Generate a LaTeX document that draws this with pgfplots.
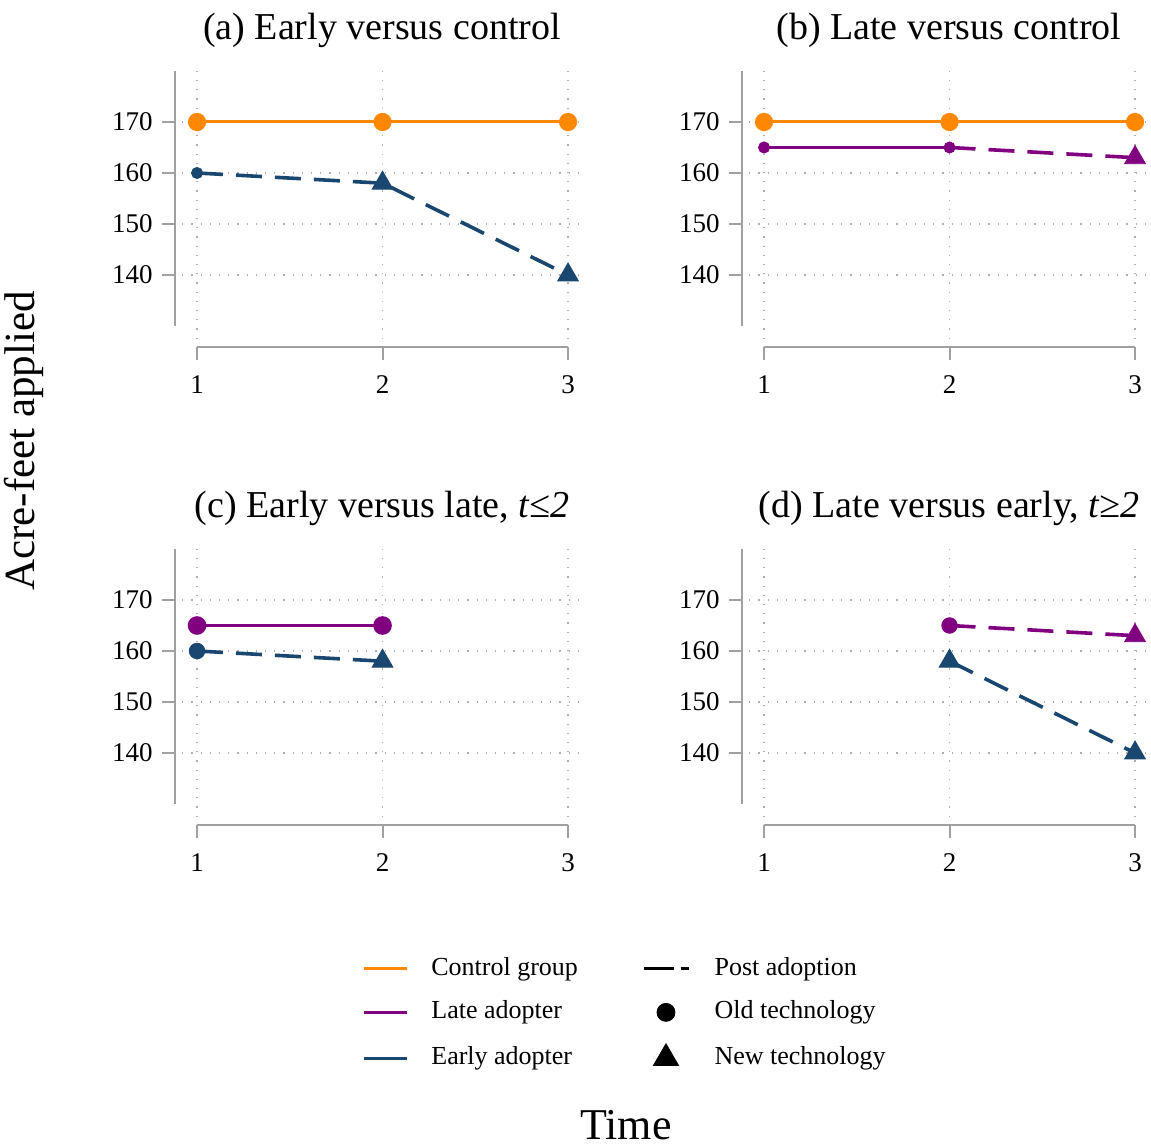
\documentclass[border=0pt]{standalone}
\usepackage{fontspec}
\setmainfont{Liberation Serif}
\usepackage{pgfplots}
\pgfplotsset{compat=1.18}

\definecolor{cOrange}{RGB}{255,136,0}
\definecolor{cPurple}{RGB}{128,0,128}
\definecolor{cNavy}{RGB}{26,71,111}
\definecolor{axisgray}{RGB}{160,160,160}
\definecolor{gridgray}{RGB}{175,175,175}

\pgfplotsset{
  panel/.style={
    x=92.75pt, y=2.55pt,
    xmin=0.92, xmax=3.1, ymin=127.5, ymax=181.5,
    anchor=south west,
    axis line style={draw=none},
    xtick={1,2,3}, ytick={140,150,160,170},
    major tick style={draw=none},
    grid=major,
    major grid style={gridgray, line width=0.6pt, dash pattern=on 0.6pt off 4pt},
    clip=false,
    /pgf/number format/assume math mode=true,
    tick label style={font=\fontsize{13.5}{15}\selectfont},
    yticklabel style={anchor=east, inner sep=0pt, xshift=-14.6pt},
    xticklabel style={anchor=north, inner sep=0pt, yshift=-18.3pt},
    title style={at={(axis description cs:0.494,1)}, anchor=base, inner sep=0pt, yshift=5.7pt, font=\fontsize{19}{21}\selectfont},
    execute at end axis={
      \draw[axisgray, line width=1pt] (axis cs:0.881,130) -- (axis cs:0.881,180);
      \draw[axisgray, line width=1pt] (axis cs:1,125.8) -- (axis cs:3,125.8);
      \pgfplotsinvokeforeach{140,150,160,170}{\draw[axisgray, line width=1pt] (axis cs:0.881,##1) -- ++(-6.5pt,0pt);}
      \pgfplotsinvokeforeach{1,2,3}{\draw[axisgray, line width=1pt] (axis cs:##1,125.8) -- ++(0pt,-6.5pt);}
    },
  },
  solidline/.style={line width=1.5pt},
  dashline/.style={line width=1.8pt, dash pattern=on 13pt off 6.5pt},
  bigdot/.style={only marks, mark=*, mark size=3.9pt},
  smalldot/.style={only marks, mark=*, mark size=2.8pt},
  tri/.style={only marks, mark=triangle*, mark size=6pt},
}

\begin{document}
\begin{tikzpicture}
\useasboundingbox (0,0) rectangle (575.5pt,573.5pt);

% (a)
\begin{axis}[panel, at={(91.1pt,404.125pt)}, title={(a) Early versus control}]
\addplot[cOrange, solidline, mark=*, mark size=3.8pt] coordinates {(1,170) (2,170) (3,170)};
\addplot[cNavy, dashline] coordinates {(1,160) (2,158) (3,140)};
\addplot[cNavy, smalldot] coordinates {(1,160)};
\addplot[cNavy, tri] coordinates {(2,158) (3,140)};
\end{axis}

% (b)
\begin{axis}[panel, at={(374.6pt,404.125pt)}, title={(b) Late versus control}]
\addplot[cOrange, solidline, mark=*, mark size=3.8pt] coordinates {(1,170) (2,170) (3,170)};
\addplot[cPurple, solidline] coordinates {(1,165) (2,165)};
\addplot[cPurple, dashline] coordinates {(2,165) (3,163)};
\addplot[cPurple, smalldot] coordinates {(1,165) (2,165)};
\addplot[cPurple, tri] coordinates {(3,163)};
\end{axis}

% (c)
\begin{axis}[panel, at={(91.1pt,165.125pt)}, title={(c) Early versus late, {\itshape t≤2}},
  legend columns=2, legend cell align=left,
  legend style={at={(axis description cs:0.4446,-0.5055)}, anchor=north west,
    draw=none, fill=none, inner sep=0pt, row sep=9.25pt,
    font=\fontsize{13}{15}\selectfont,
    nodes={inner sep=0pt, text height=9.5pt, text depth=3pt},
    /tikz/column 1/.style={column sep=11.5pt},
    /tikz/column 2/.style={column sep=15.5pt},
    /tikz/column 3/.style={column sep=12pt}},
]
\addplot[cPurple, solidline, mark=*, mark size=3.9pt, forget plot] coordinates {(1,165) (2,165)};
\addplot[cNavy, dashline, forget plot] coordinates {(1,160) (2,158)};
\addplot[cNavy, bigdot, forget plot] coordinates {(1,160)};
\addplot[cNavy, tri, forget plot] coordinates {(2,158)};
\addlegendimage{legend image code/.code={\draw[cOrange, line width=1.5pt] (0pt,0pt) -- (21.5pt,0pt);}}
\addlegendentry{\makebox[90pt][l]{Control group}}
\addlegendimage{legend image code/.code={\draw[black, line width=1.6pt, dash pattern=on 15pt off 3.5pt] (0pt,0pt) -- (22.5pt,0pt);}}
\addlegendentry{Post adoption}
\addlegendimage{legend image code/.code={\draw[cPurple, line width=1.5pt] (0pt,0pt) -- (21.5pt,0pt);}}
\addlegendentry{\makebox[90pt][l]{Late adopter}}
\addlegendimage{legend image code/.code={\path[draw=none] (0pt,0pt) -- (22.5pt,0pt); \fill[black] (11pt,0pt) circle (4.5pt);}}
\addlegendentry{Old technology}
\addlegendimage{legend image code/.code={\draw[cNavy, line width=1.5pt] (0pt,0pt) -- (21.5pt,0pt);}}
\addlegendentry{\makebox[90pt][l]{Early adopter}}
\addlegendimage{legend image code/.code={\path[draw=none] (0pt,0pt) -- (22.5pt,0pt); \fill[black] (11pt,7.3pt) -- (17.3pt,-3.6pt) -- (4.7pt,-3.6pt) -- cycle;}}
\addlegendentry{New technology}
\end{axis}

% (d)
\begin{axis}[panel, at={(374.6pt,165.125pt)}, title={(d) Late versus early, {\itshape t≥2}}]
\addplot[cPurple, dashline] coordinates {(2,165) (3,163)};
\addplot[cNavy, dashline] coordinates {(2,158) (3,140)};
\addplot[cPurple, bigdot] coordinates {(2,165)};
\addplot[cPurple, tri] coordinates {(3,163)};
\addplot[cNavy, tri] coordinates {(2,158) (3,140)};
\end{axis}

\node[rotate=90, anchor=base, inner sep=0pt, font=\fontsize{21.5}{24}\selectfont] at (17.5pt,353pt) {Acre-feet applied};
\node[anchor=base, inner sep=0pt, font=\fontsize{22}{24}\selectfont] at (313pt,4pt) {Time};
\end{tikzpicture}
\end{document}
